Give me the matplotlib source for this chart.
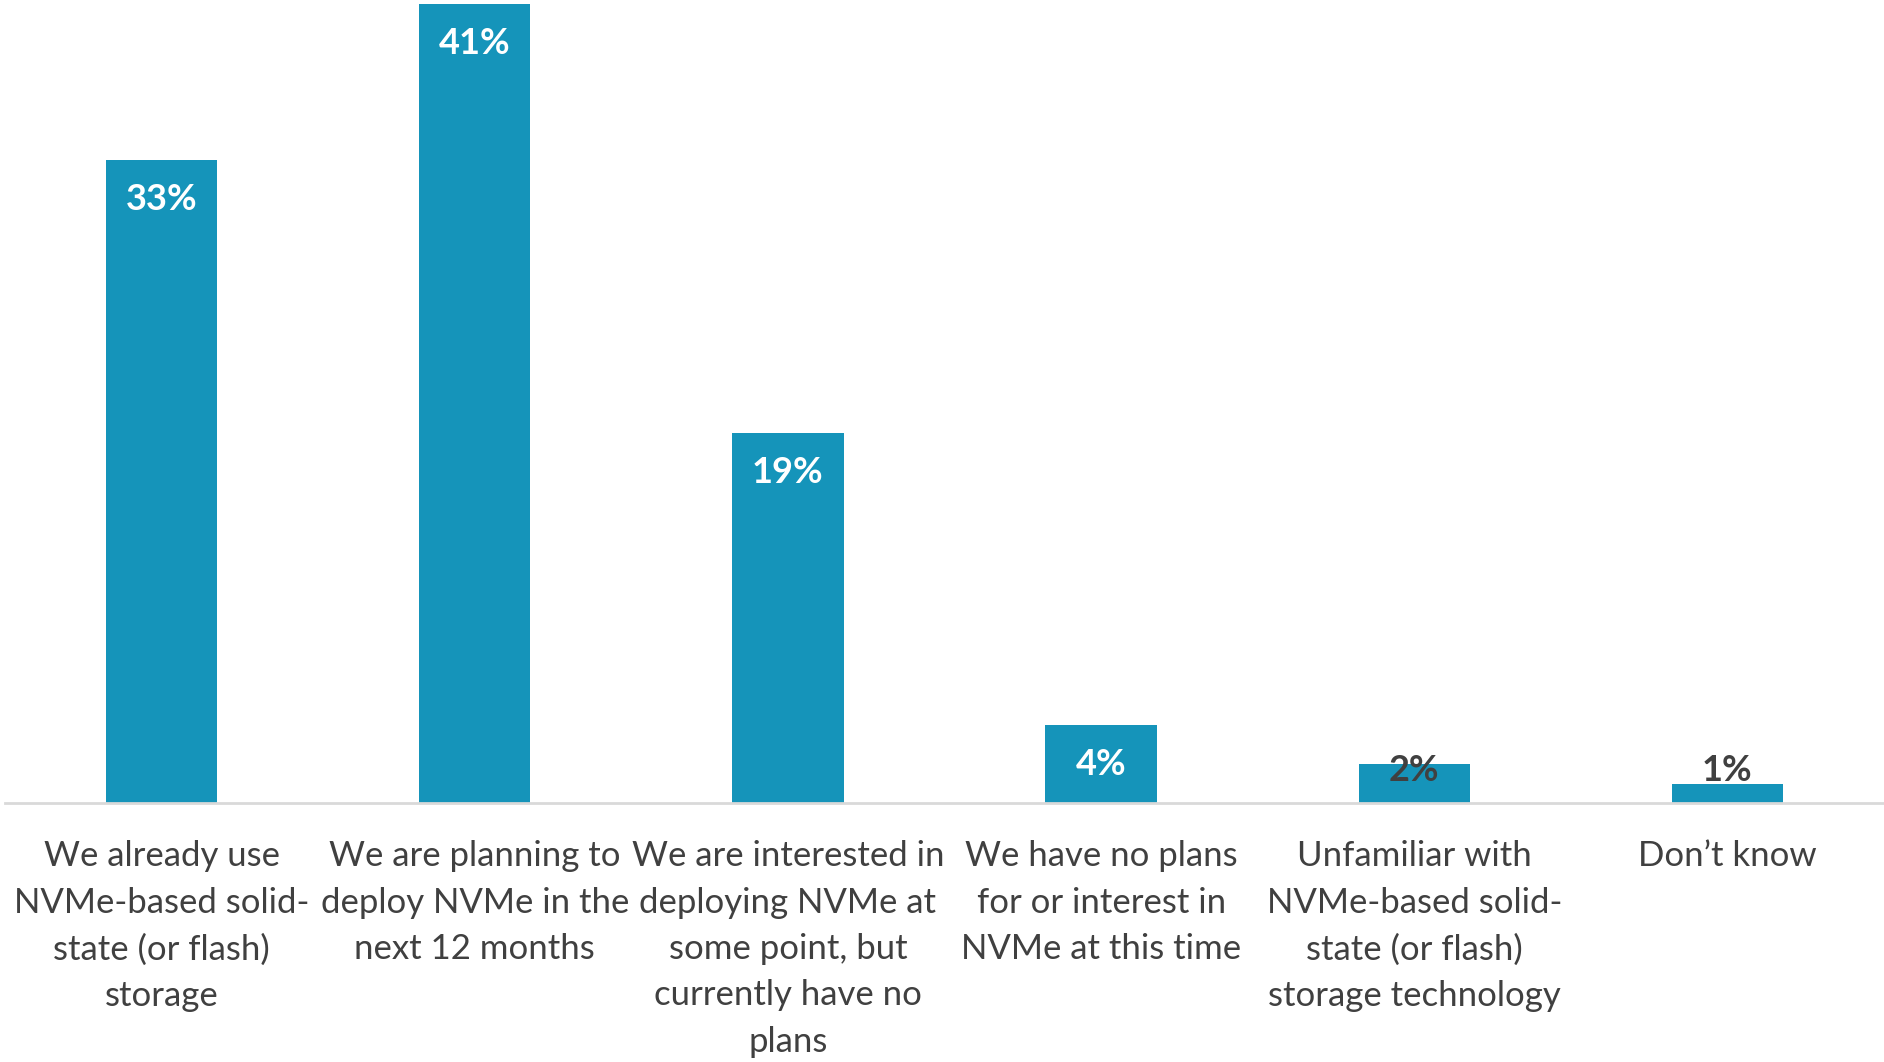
import numpy as np
import matplotlib.pyplot as plt

categories = [
    "We already use\nNVMe-based solid-\nstate (or flash)\nstorage",
    "We are planning to\ndeploy NVMe in the\nnext 12 months",
    "We are interested in\ndeploying NVMe at\nsome point, but\ncurrently have no\nplans",
    "We have no plans\nfor or interest in\nNVMe at this time",
    "Unfamiliar with\nNVMe-based solid-\nstate (or flash)\nstorage technology",
    "Don\u2019t know",
]
values = [33, 41, 19, 4, 2, 1]

bar_color = "#1594BA"
text_color = "#404040"

plt.rcParams['font.family'] = ['Lato', 'DejaVu Sans']

fig = plt.figure(figsize=(18.84, 10.62), dpi=100)
ax = fig.add_axes([5 / 1884, 259 / 1062, 1 - 5 / 1884, 803 / 1062])

x = np.arange(len(values))
ax.bar(x, values, width=0.355, color=bar_color, zorder=2)

ax.set_xlim(-0.5, len(values) - 0.5)
ax.set_ylim(0, 41.2)

# value labels: inside the top of the bar, pushed up for the small ones
for xi, v in zip(x, values):
    y = max(v - 2.05, 1.65)
    col = "white" if v >= 4 else text_color
    ax.text(xi, y, f"{v}%", ha="center", va="center", color=col,
            fontsize=26, fontweight="bold", zorder=3)

ax.set_xticks(x)
ax.set_xticklabels(categories, fontsize=25, color=text_color, linespacing=1.55)
ax.tick_params(axis="x", length=0, pad=27)
ax.set_yticks([])

for s in ["top", "right", "left"]:
    ax.spines[s].set_visible(False)
ax.spines["bottom"].set_color("#D9D9D9")
ax.spines["bottom"].set_linewidth(2)

fig.savefig("out.png", dpi=100)
